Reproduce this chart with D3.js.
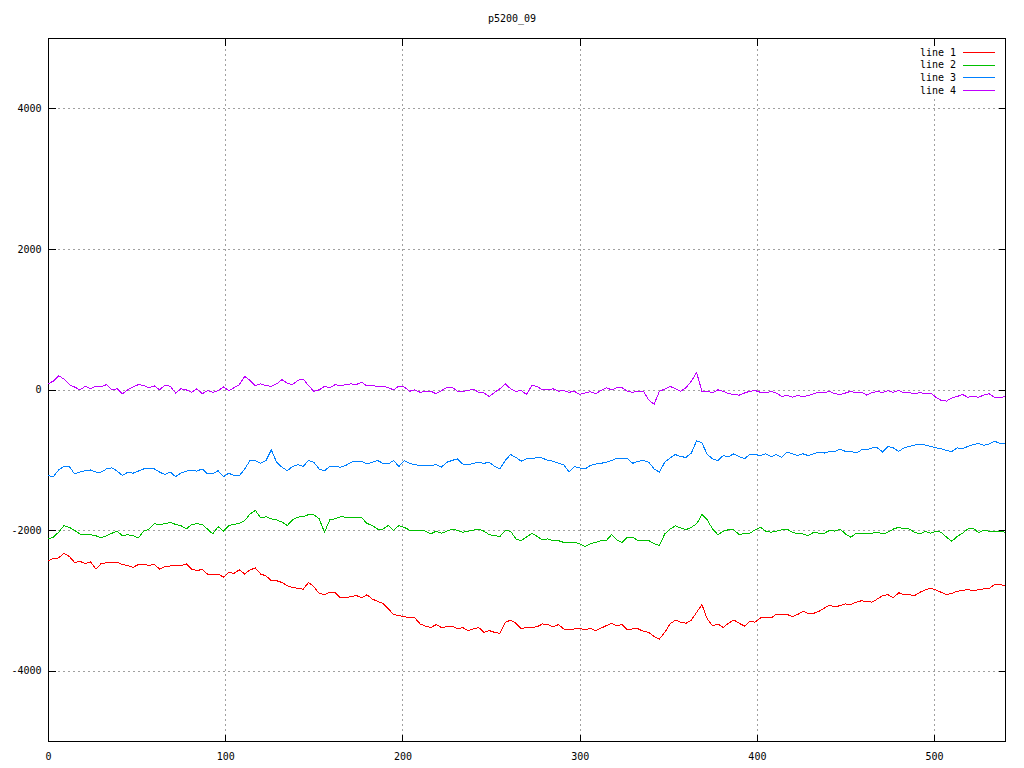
<!DOCTYPE html>
<html>
<head>
<meta charset="utf-8">
<script src="https://cdn.jsdelivr.net/npm/d3@7"></script>
<style>
  html, body { margin: 0; padding: 0; background: #fff; }
  svg { display: block; }
  text { font-family: "DejaVu Sans Mono", monospace; font-size: 10px; fill: #000; }
</style>
</head>
<body>
<svg id="chart" width="1024" height="768"></svg>
<script>
// ---------- data ----------
const title = "p5200_09";
const seriesNames = ["line 1", "line 2", "line 3", "line 4"];
const seriesColors = ["#ff0000", "#00c000", "#0080ff", "#c000ff"];
const xStep = 3; // samples every 3 units, 0..540
const xTicks = [0, 100, 200, 300, 400, 500];
const yTicks = [-4000, -2000, 0, 2000, 4000];

const line1 = [
  -2435,-2405,-2395,-2330,-2375,-2460,-2445,-2475,-2450,-2555,-2475,-2465,-2465,-2455,-2490,-2505,-2530,-2490,-2490,-2500,-2490,-2555,-2520,-2510,-2505,-2505,-2480,-2555,-2575,-2560,-2625,-2625,-2625,-2670,-2600,-2615,
  -2565,-2625,-2565,-2540,-2625,-2650,-2720,-2720,-2745,-2790,-2815,-2830,-2840,-2745,-2805,-2900,-2920,-2885,-2890,-2965,-2965,-2945,-2930,-2965,-2920,-2980,-3015,-3040,-3120,-3200,-3215,-3230,-3250,-3250,-3335,-3365,
  -3385,-3345,-3385,-3375,-3365,-3405,-3385,-3430,-3405,-3385,-3455,-3430,-3455,-3470,-3315,-3280,-3325,-3405,-3385,-3385,-3375,-3335,-3345,-3375,-3345,-3405,-3420,-3405,-3395,-3420,-3395,-3430,-3395,-3360,-3325,-3360,
  -3345,-3420,-3405,-3405,-3440,-3455,-3515,-3550,-3455,-3335,-3280,-3310,-3325,-3280,-3170,-3060,-3265,-3360,-3335,-3385,-3325,-3280,-3325,-3365,-3300,-3310,-3250,-3250,-3250,-3195,-3195,-3200,-3230,-3200,-3155,
  -3185,-3185,-3155,-3110,-3070,-3090,-3075,-3050,-3060,-3025,-3005,-3015,-3025,-2980,-2930,-2920,-2965,-2890,-2920,-2920,-2930,-2885,-2850,-2825,-2850,-2885,-2920,-2900,-2870,-2860,-2845,-2860,-2850,-2835,-2835,-2775,-2775,-2790
];
const line2 = [
  -2125,-2100,-2030,-1935,-1960,-2005,-2055,-2065,-2065,-2080,-2110,-2080,-2045,-2015,-2080,-2065,-2080,-2110,-2015,-1985,-1910,-1920,-1910,-1890,-1920,-1935,-1985,-1920,-1910,-1920,-1985,-2055,-1950,-2015,-1935,-1920,
  -1905,-1865,-1770,-1720,-1825,-1810,-1840,-1855,-1885,-1935,-1855,-1815,-1810,-1780,-1780,-1840,-2030,-1855,-1840,-1810,-1815,-1815,-1815,-1825,-1905,-1935,-1985,-1985,-1935,-2005,-1935,-1960,-2000,-2005,-2000,-2015,
  -2055,-2015,-2045,-2015,-1985,-2005,-2030,-2015,-2000,-1985,-2015,-2065,-2080,-2090,-2005,-2015,-2125,-2150,-2100,-2045,-2090,-2140,-2125,-2150,-2150,-2175,-2175,-2175,-2195,-2235,-2195,-2175,-2150,-2150,-2065,-2140,
  -2175,-2100,-2100,-2150,-2150,-2150,-2195,-2220,-2055,-1985,-1940,-1970,-1995,-1960,-1910,-1780,-1855,-1985,-2065,-2015,-1995,-1995,-2065,-2045,-2045,-1995,-1960,-2015,-2030,-2015,-1995,-1985,-2030,-2055,-2055,
  -2080,-2030,-2045,-2045,-2005,-2015,-1985,-2055,-2100,-2045,-2055,-2045,-2045,-2030,-2055,-2030,-1985,-1960,-1980,-1985,-2030,-2055,-2015,-2045,-2015,-2030,-2100,-2160,-2090,-2045,-1985,-1970,-2035,-2005,-2015,-2015,-2015,-2030
];
const line3 = [
  -1225,-1240,-1145,-1095,-1095,-1200,-1175,-1155,-1145,-1175,-1175,-1130,-1115,-1160,-1225,-1175,-1190,-1160,-1130,-1130,-1130,-1175,-1210,-1175,-1240,-1190,-1160,-1155,-1160,-1130,-1200,-1200,-1155,-1240,-1190,-1225,
  -1225,-1130,-1010,-1010,-1050,-1010,-860,-1035,-1105,-1155,-1095,-1070,-1095,-1010,-1035,-1130,-1155,-1095,-1095,-1105,-1080,-1035,-1020,-1020,-1060,-1035,-1010,-1050,-1060,-1010,-1095,-1010,-1050,-1070,-1080,-1080,
  -1080,-1070,-1105,-1035,-1010,-985,-1060,-1070,-1050,-1035,-1050,-1035,-1095,-1130,-1010,-925,-965,-1020,-985,-985,-965,-975,-1010,-1020,-1050,-1070,-1175,-1095,-1115,-1130,-1080,-1060,-1050,-1035,-1010,-975,
  -975,-985,-1050,-1020,-1010,-1035,-1130,-1175,-1035,-975,-925,-955,-965,-905,-730,-760,-925,-985,-1010,-940,-955,-915,-955,-985,-925,-925,-940,-915,-955,-925,-965,-890,-915,-940,-915,
  -940,-915,-890,-905,-880,-880,-850,-880,-880,-905,-860,-860,-830,-830,-890,-810,-830,-880,-830,-810,-790,-775,-790,-810,-830,-840,-870,-880,-830,-845,-810,-785,-765,-795,-775,-735,-765,-765
];
const line4 = [
  80,120,195,150,70,35,-5,45,10,45,35,70,-5,10,-60,-5,35,70,55,25,50,-5,65,45,-50,10,-5,-40,10,-60,-15,-40,-15,35,-15,25,
  70,185,130,55,80,55,45,80,140,90,70,130,150,55,-25,-5,45,25,70,50,70,80,70,105,50,55,45,50,25,-5,50,35,-25,-5,-40,-25,
  -25,-60,-15,25,35,-25,-25,-15,5,-40,-50,-100,-40,10,80,10,-25,-15,-70,55,45,-5,-5,10,-25,-15,-40,-25,-70,-50,-30,-60,-15,25,-5,25,
  25,-25,-40,-25,-25,-150,-210,-25,5,45,10,-25,25,120,240,-25,-25,-45,-5,-25,-60,-70,-80,-50,-25,-15,-40,-50,-25,-50,-100,-85,-110,-85,-100,
  -85,-60,-40,-50,-25,-60,-70,-50,-25,-50,-40,-80,-45,-25,-45,-15,-40,-15,-50,-45,-60,-45,-60,-50,-110,-155,-165,-120,-100,-70,-110,-100,-110,-80,-60,-110,-120,-100
];
const seriesValues = [line1, line2, line3, line4];

// ---------- layout ----------
const svg = d3.select("#chart");
const L = 48, R = 1005, T = 38, B = 741;
const x = d3.scaleLinear().domain([0, 540]).range([L, R]);
const y = d3.scaleLinear().domain([-5000, 5000]).range([B, T]);

svg.append("rect").attr("width", 1024).attr("height", 768).attr("fill", "#fff");

// grid
const grid = svg.append("g").attr("stroke", "#a0a0a0").attr("stroke-width", 1)
  .attr("stroke-dasharray", "2,3").attr("shape-rendering", "crispEdges");
grid.selectAll(".gx").data(xTicks.filter(d => d > 0)).join("line")
  .attr("x1", d => Math.round(x(d)) + 0.5).attr("x2", d => Math.round(x(d)) + 0.5)
  .attr("y1", B).attr("y2", T);
grid.selectAll(".gy").data(yTicks).join("line")
  .attr("y1", d => Math.round(y(d)) + 0.5).attr("y2", d => Math.round(y(d)) + 0.5)
  .attr("x1", L).attr("x2", R);

// legend background (masks grid under the key)
svg.append("rect").attr("x", 912).attr("y", 45).attr("width", 90).attr("height", 52).attr("fill", "#fff");

// axes
const fmt = d => String(d);
const tick = 7;
svg.append("g").attr("transform", `translate(${L + 0.5},0)`)
  .call(d3.axisLeft(y).tickValues(yTicks).tickSizeInner(-tick).tickSizeOuter(0).tickPadding(7).tickFormat(fmt));
svg.append("g").attr("transform", `translate(${R + 0.5},0)`)
  .call(d3.axisRight(y).tickValues(yTicks).tickSizeInner(-tick).tickSizeOuter(0).tickFormat(""));
svg.append("g").attr("transform", `translate(0,${B + 0.5})`)
  .call(d3.axisBottom(x).tickValues(xTicks).tickSizeInner(-tick).tickSizeOuter(0).tickPadding(11).tickFormat(fmt));
svg.append("g").attr("transform", `translate(0,${T + 0.5})`)
  .call(d3.axisTop(x).tickValues(xTicks).tickSizeInner(-tick).tickSizeOuter(0).tickFormat(""));
svg.selectAll(".domain").remove();
svg.selectAll(".tick line").attr("stroke", "#000").attr("shape-rendering", "crispEdges");
svg.selectAll(".tick text").attr("font-family", '"DejaVu Sans Mono", monospace').attr("font-size", 10).attr("fill", "#000");

// frame
svg.append("rect").attr("x", L + 0.5).attr("y", T + 0.5).attr("width", R - L).attr("height", B - T)
  .attr("fill", "none").attr("stroke", "#000").attr("stroke-width", 1).attr("shape-rendering", "crispEdges");

// series
const lineGen = d3.line().x((d, i) => x(i * xStep)).y(d => y(d));
svg.append("g").selectAll("path").data(seriesValues).join("path")
  .attr("d", d => lineGen(d))
  .attr("fill", "none")
  .attr("stroke", (d, i) => seriesColors[i])
  .attr("stroke-width", 1)
  .attr("shape-rendering", "crispEdges");

// legend
const leg = svg.append("g");
seriesNames.forEach((name, i) => {
  const yy = 52 + i * 12.7;
  leg.append("text").attr("x", 956).attr("y", yy).attr("dy", "0.35em").attr("text-anchor", "end").text(name);
  leg.append("line").attr("x1", 963).attr("x2", 995).attr("y1", Math.round(yy) + 0.5).attr("y2", Math.round(yy) + 0.5)
    .attr("stroke", seriesColors[i]).attr("stroke-width", 1).attr("shape-rendering", "crispEdges");
});

// title
svg.append("text").attr("x", 512).attr("y", 18).attr("dy", "0.35em").attr("text-anchor", "middle").text(title);
</script>
</body>
</html>
